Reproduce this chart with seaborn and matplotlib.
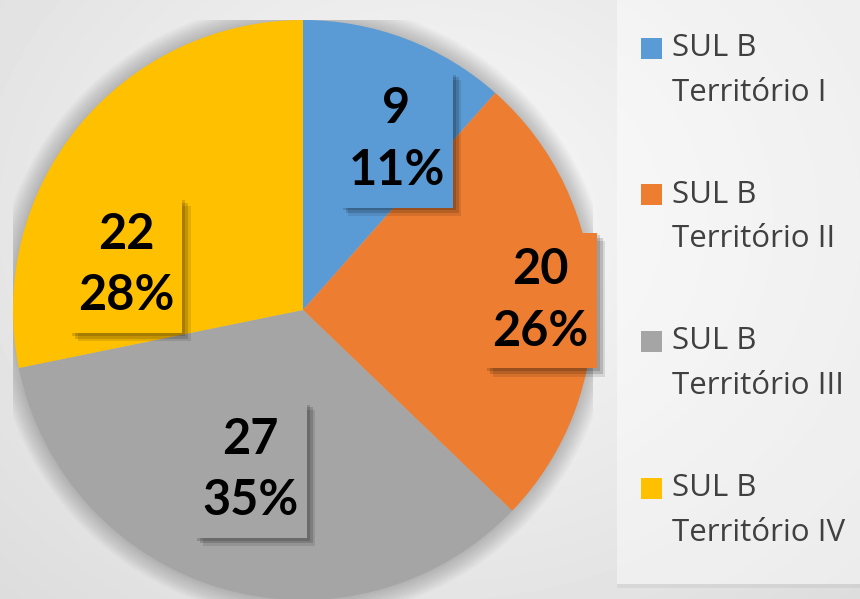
import numpy as np
import matplotlib
matplotlib.use("Agg")
import matplotlib.pyplot as plt
import matplotlib.patheffects as pe
from matplotlib.patches import Rectangle, Circle
from matplotlib.path import Path
import seaborn as sns

# data
categories = ["SUL B\nTerritório I", "SUL B\nTerritório II",
              "SUL B\nTerritório III", "SUL B\nTerritório IV"]
values = [9, 20, 27, 22]
pct_labels = [11, 26, 35, 28]

sns.set_theme(style="white")
colors = sns.color_palette(["#5b9bd5", "#ed7d31", "#a5a5a5", "#ffc000"])

W, H = 860, 599
fig = plt.figure(figsize=(W / 100, H / 100), dpi=100)

# soft radial gradient background
bg = fig.add_axes([0, 0, 1, 1])
bg.set_axis_off()
yy, xx = np.mgrid[0:H, 0:W]
d = np.sqrt(((xx - 430) / 620.0) ** 2 + ((yy - 220) / 520.0) ** 2)
shade = np.clip(0.975 - 0.11 * d, 0.84, 1.0)
bg.imshow(shade, cmap="gray", vmin=0, vmax=1, extent=[0, 1, 0, 1],
          aspect="auto", interpolation="bilinear")
bg.set_xlim(0, 1)
bg.set_ylim(0, 1)
# legend panel
bg.add_patch(Rectangle((617 / W, 1 - 588 / H), 1, 4 / H, color="black", alpha=0.05, lw=0))
bg.add_patch(Rectangle((617 / W, 1 - 584 / H), 1, 584 / H, color="white", alpha=0.45, lw=0))

# pie axes: centre (303, 310) px, radius 290 px
cx, cy, R = 303, 310, 290
ax = fig.add_axes([(cx - R) / W, (H - cy - R) / H, 2 * R / W, 2 * R / H])
ax.set_axis_off()
for k in range(12):
    ax.add_patch(Circle((0, 0), 1.0 + 0.006 * k, color="black", alpha=0.018, lw=0, zorder=0))
wedges, _ = ax.pie(values, colors=colors, startangle=90, counterclock=False,
                   wedgeprops=dict(linewidth=0))
for w in wedges:
    w.set_zorder(2)
ax.set_xlim(-1, 1)
ax.set_ylim(-1, 1)
ax.set_aspect("equal")


def label_box(x0, y0, width, height, mutation_size):
    px, py = 0.17 * mutation_size, 0.3 * mutation_size
    x0, y0 = x0 - px, y0 - py
    x1, y1 = x0 + width + 2 * px, y0 + height + 2 * py
    return Path([(x0, y0), (x1, y0), (x1, y1), (x0, y1), (x0, y0)], closed=True)


label_r = [0.67, 0.82, 0.58, 0.63]
label_shift = [-8, 0, -2, 25]
for w, v, p, col, r, sh in zip(wedges, values, pct_labels, colors, label_r, label_shift):
    ang = np.deg2rad((w.theta1 + w.theta2) / 2 + sh)
    t = ax.text(r * np.cos(ang), r * np.sin(ang), f"{v}\n{p}%",
                ha="center", va="center", ma="center", fontsize=35,
                fontweight="bold", family=["Lato", "DejaVu Sans"], color="black",
                linespacing=1.45, zorder=5,
                bbox=dict(boxstyle=label_box, facecolor=col, edgecolor="none"))
    t.get_bbox_patch().set_path_effects([
        pe.SimplePatchShadow(offset=(2, -2), shadow_rgbFace="black", alpha=0.15),
        pe.SimplePatchShadow(offset=(4, -4), shadow_rgbFace="black", alpha=0.15),
        pe.SimplePatchShadow(offset=(6, -6), shadow_rgbFace="black", alpha=0.1),
        pe.Normal()])

# legend
top0, step, gap = 48, 146.7, 44.5
for i, (lab, col) in enumerate(zip(categories, colors)):
    yc = top0 + i * step
    fig.patches.append(Rectangle((641 / W, 1 - (yc + 10.5) / H), 21 / W, 21 / H,
                                 transform=fig.transFigure, facecolor=col,
                                 edgecolor="none", figure=fig))
    l1, l2 = lab.split("\n")
    fig.text(672 / W, 1 - yc / H, l1, ha="left", va="center", fontsize=22.5,
             family=["Open Sans", "DejaVu Sans"], color="#404040")
    fig.text(672 / W, 1 - (yc + gap) / H, l2, ha="left", va="center", fontsize=22.5,
             family=["Open Sans", "DejaVu Sans"], color="#404040")

fig.savefig("out.png", dpi=100)
